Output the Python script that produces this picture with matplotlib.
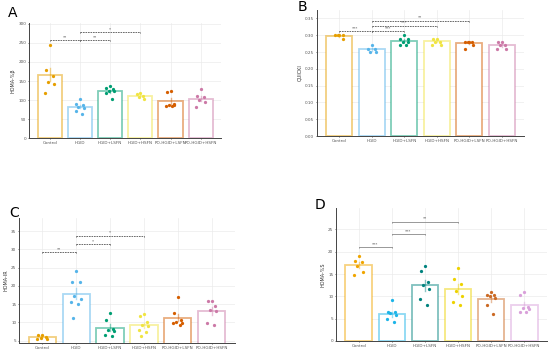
import numpy as np
import matplotlib
matplotlib.use("Agg")
import matplotlib.pyplot as plt

plt.rcParams['font.family'] = ['DejaVu Sans']

groups = ["Control", "HGID", "HGID+LSFN", "HGID+HSFN", "PO-HGID+LSFN", "PO-HGID+HSFN"]

# Panel A: HOMA-%β
means_A = [167, 83, 123, 110, 98, 104]
pts_A = [
    [245, 180, 163, 148, 143, 120],
    [103, 90, 88, 83, 80, 72, 63],
    [137, 132, 128, 125, 124, 120, 102],
    [118, 115, 112, 108, 103],
    [125, 122, 90, 88, 86, 85, 85],
    [130, 110, 108, 100, 95, 82],
]
yticks_A = [0, 50, 100, 150, 200, 250, 300]
sig_A = [(0, 1, 257, "**"), (1, 2, 257, "**"), (1, 3, 278, "*")]

# Panel B: QUICKI
means_B = [0.298, 0.258, 0.283, 0.282, 0.276, 0.270]
pts_B = [
    [0.30, 0.30, 0.30, 0.30, 0.29],
    [0.27, 0.26, 0.26, 0.25, 0.25],
    [0.30, 0.29, 0.29, 0.28, 0.28, 0.27, 0.27],
    [0.29, 0.29, 0.28, 0.28, 0.27, 0.27],
    [0.28, 0.28, 0.28, 0.28, 0.27, 0.26],
    [0.28, 0.28, 0.27, 0.27, 0.26, 0.26],
]
yticks_B = [0.00, 0.05, 0.10, 0.15, 0.20, 0.25, 0.30, 0.35]
sig_B = [(0, 1, 0.312, "***"), (1, 2, 0.312, "***"), (1, 3, 0.327, "***"), (1, 4, 0.342, "**")]

# Panel C: HOMA-IR
means_C = [6.1, 17.9, 8.6, 9.2, 11.3, 13.2]
pts_C = [
    [6.6, 6.5, 6.0, 5.8, 5.6, 5.4],
    [24.0, 21.2, 21.0, 17.3, 16.5, 15.5, 15.1, 11.1],
    [12.6, 10.8, 8.2, 8.0, 7.6, 6.5, 6.2],
    [12.4, 11.7, 10.0, 9.3, 9.0, 8.0, 7.4, 6.2],
    [16.9, 12.6, 10.6, 10.0, 9.9, 9.8, 9.3],
    [16.0, 15.9, 14.5, 13.4, 13.0, 9.8, 9.2],
]
yticks_C = [5, 10, 15, 20, 25, 30, 35]
sig_C = [(0, 1, 29.2, "**"), (1, 2, 31.4, "*"), (1, 3, 33.7, "*")]

# Panel D: HOMA-%S
means_D = [17.0, 6.0, 12.5, 11.6, 9.3, 8.0]
pts_D = [
    [19.0, 17.9, 17.7, 16.8, 15.4, 14.8],
    [9.1, 6.6, 6.4, 6.3, 5.8, 4.9, 4.2],
    [16.7, 15.7, 13.2, 12.6, 11.6, 9.3, 8.0],
    [16.3, 13.9, 12.8, 11.3, 10.0, 8.7, 8.1],
    [11.0, 10.4, 10.3, 10.0, 9.6, 8.0, 6.0],
    [10.9, 10.3, 7.7, 7.5, 7.1, 6.4, 6.4],
]
yticks_D = [0, 5, 10, 15, 20, 25]
sig_D = [(0, 1, 21.0, "***"), (1, 2, 23.9, "***"), (1, 3, 26.7, "**")]

colors_abc = ['#E69F00', '#56B4E9', '#009E73', '#F0E442', '#D55E00', '#CC79A7']
colors_d = ['#F0A500', '#1CB4E8', '#00827E', '#EDD200', '#CB6A24', '#D9A0DA']

JIT = [0.0, -0.12, 0.10, -0.05, 0.13, -0.14, 0.06, -0.08]

fig = plt.figure(figsize=(5.5, 3.49), dpi=100)
FS = 3.0


def panel(rect, means, pts, yticks, ylim, ylabel, sigs, colors, dashed, label, labelpos):
    ax = fig.add_axes(rect)
    x = np.arange(len(groups))
    ax.set_axisbelow(True)
    ax.grid(True, color='#EBEBEB', linewidth=0.5)
    ax.bar(x, means, width=0.8, facecolor='white', edgecolor=[matplotlib.colors.to_rgba(c, 0.5) for c in colors],
           linewidth=1.3, zorder=2)
    for i, p in enumerate(pts):
        p = np.asarray(p, dtype=float)
        sem = p.std(ddof=1) / np.sqrt(len(p))
        ax.plot([i, i], [means[i] - sem, means[i] + sem], color=colors[i], alpha=0.45, lw=1.0, zorder=3)
        jx = i + np.array(JIT[:len(p)])
        ax.scatter(jx, p, s=5.5, color=colors[i], zorder=4, linewidths=0)
    rng = ylim[1] - ylim[0]
    for a, b, y, t in sigs:
        ls = (0, (2, 1)) if dashed else '-'
        col = '#555555' if dashed else '#888888'
        ax.plot([a, b], [y, y], color=col, lw=0.6, ls=ls, zorder=5)
        ax.plot([a, a], [y, y - rng * 0.008], color=col, lw=0.4, zorder=5)
        ax.plot([b, b], [y, y - rng * 0.008], color=col, lw=0.4, zorder=5)
        ax.text((a + b) / 2, y + rng * 0.01, t, ha='center', va='bottom', fontsize=FS, color='#444444')
    ax.set_xticks(x)
    ax.set_xticklabels(groups, fontsize=FS, color='#555555')
    ax.set_yticks(yticks)
    ax.tick_params(axis='y', labelsize=FS, labelcolor='#555555', length=1.0, width=0.4, pad=1)
    ax.tick_params(axis='x', length=1.0, width=0.4, pad=1)
    ax.set_ylim(*ylim)
    ax.set_xlim(-0.685, 5.685)
    ax.set_ylabel(ylabel, fontsize=FS + 0.5, color='#333333', labelpad=2)
    for s in ['top', 'right']:
        ax.spines[s].set_visible(False)
    for s in ['left', 'bottom']:
        ax.spines[s].set_color('#444444')
        ax.spines[s].set_linewidth(0.7)
    fig.text(labelpos[0] / 550, 1 - labelpos[1] / 349, label, fontsize=10, ha='center', va='center')
    return ax


panel([29 / 550, (349 - 138.3) / 349, 192.4 / 550, 115.6 / 349], means_A, pts_A, yticks_A, (0, 303),
      'HOMA-%β', sig_A, colors_abc, True, 'A', (13, 13))
panel([317 / 550, (349 - 136) / 349, 207 / 550, 126 / 349], means_B, pts_B, yticks_B, (0, 0.375),
      'QUICKI', sig_B, colors_abc, True, 'B', (302, 7))
panel([19 / 550, (349 - 343.3) / 349, 216 / 550, 125.3 / 349], means_C, pts_C, yticks_C, (4.29, 38.6),
      'HOMA-IR', sig_C, colors_abc, True, 'C', (14, 213))
panel([336 / 550, (349 - 341) / 349, 211 / 550, 133 / 349], means_D, pts_D, yticks_D, (0, 29.8),
      'HOMA-%S', sig_D, colors_d, False, 'D', (320, 205))

fig.savefig('out.png', dpi=100, facecolor='white')
